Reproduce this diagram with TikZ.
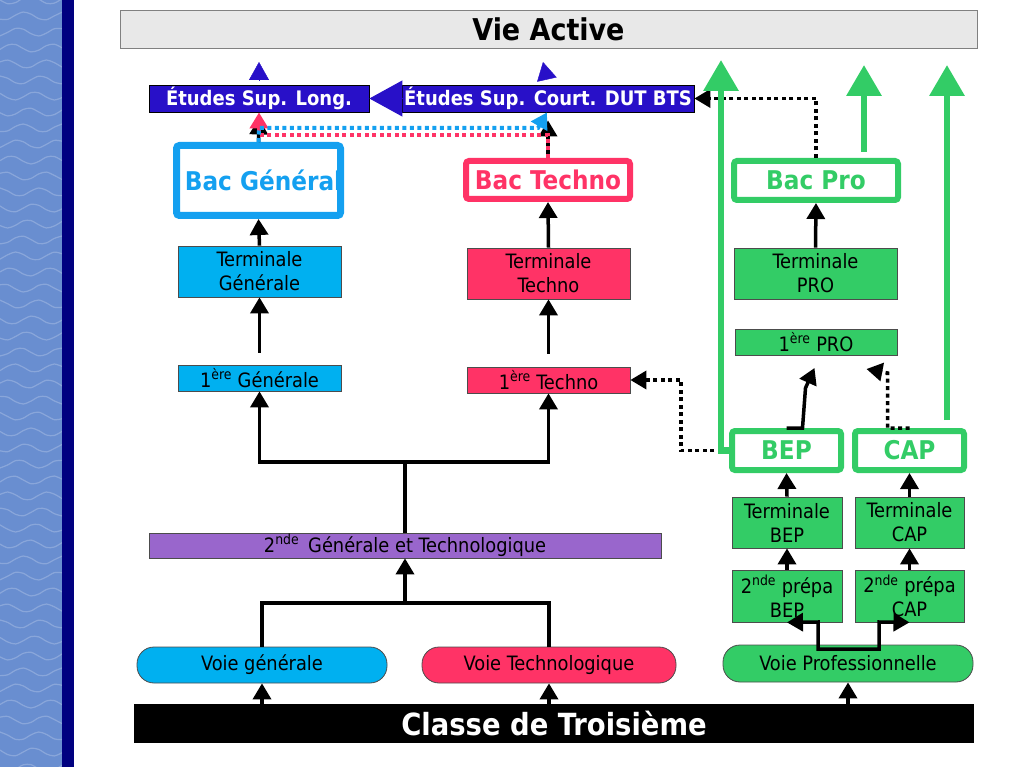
\documentclass[tikz,border=0pt]{standalone}
\usepackage{fontspec}
\setmainfont{DejaVu Sans Condensed}
\usetikzlibrary{arrows.meta}
\definecolor{bleu}{RGB}{0,176,240}
\definecolor{bleubord}{RGB}{20,160,240}
\definecolor{rose}{RGB}{255,51,102}
\definecolor{vert}{RGB}{51,204,102}
\definecolor{violet}{RGB}{153,102,204}
\definecolor{supbleu}{RGB}{40,16,200}
\definecolor{gris}{RGB}{232,232,232}
\definecolor{eau}{RGB}{105,142,208}
\definecolor{marine}{RGB}{0,0,128}

\tikzset{
  etape/.style={draw=black!70, line width=0.8pt, inner sep=0pt, align=center,
    font=\fontsize{19.8}{24}\selectfont},
  voie/.style={etape, rounded corners=17pt},
  bac/.style={line width=6pt, rounded corners=3pt, fill=white, inner sep=0pt,
    font=\fontsize{25.8}{30}\selectfont\bfseries},
  etudes/.style={draw=black, line width=0.8pt, fill=supbleu, text=white, inner sep=0pt,
    minimum height=27pt, font=\fontsize{20}{24}\selectfont\bfseries},
  fleche/.style={line width=3.5pt, -{Triangle[width=18pt,length=16pt]}},
  pointille/.style={line width=4pt, dash pattern=on 4pt off 3.5pt},
  montee/.style={vert, line width=6.5pt, -{Triangle[width=34pt,length=31pt]}},
}

\begin{document}
\begin{tikzpicture}[x=1pt,y=-1pt]
  \useasboundingbox (0,0) rectangle (1023,767);

  % bande de gauche
  \fill[eau] (0,0) rectangle (62,767);
  \foreach \k in {0,...,48}
    \draw[white,opacity=0.22,line width=1.2pt]
      plot[smooth,domain=0:62,samples=9] (\x,{16*\k+4*sin(9*\x+53*\k)});
  \fill[marine] (62,0) rectangle (74,767);

  % titres
  \node[etape, fill=gris, draw=gray, minimum width=857pt, minimum height=38pt,
    font=\fontsize{30}{32}\selectfont\bfseries] (vie) at (548.5,29) {Vie Active};
  \node[etudes, minimum width=220pt] (long) at (259,98.5) {Études Sup. Long.};
  \node[etudes, minimum width=292pt] (court) at (548,98.5) {Études Sup. Court. DUT BTS};

  % bacs
  \node[bac, draw=bleubord, text=bleubord, line width=7pt, minimum width=164pt, minimum height=70pt]
    (bacG) at (258.5,180.5) {\makebox[120pt]{\hspace{10pt}Bac Général}};
  \node[bac, draw=rose, text=rose, minimum width=164pt, minimum height=38pt]
    (bacT) at (548,180) {Bac Techno};
  \node[bac, draw=vert, text=vert, minimum width=164pt, minimum height=39pt]
    (bacP) at (816,180.5) {Bac Pro};
  \node[bac, draw=vert, text=vert, minimum width=109pt, minimum height=39pt]
    (bep) at (786.5,450.5) {BEP};
  \node[bac, draw=vert, text=vert, minimum width=109pt, minimum height=39pt]
    (cap) at (909.5,450.5) {CAP};

  % filiere generale et techno
  \node[etape, fill=bleu, minimum width=163pt, minimum height=51pt] (termG) at (259.5,271.5) {Terminale\\Générale};
  \node[etape, fill=bleu, minimum width=163pt, minimum height=26pt] (premG) at (259.5,378) {1\textsuperscript{ère} Générale};
  \node[etape, fill=rose, minimum width=163pt, minimum height=51pt] (termT) at (548.5,273.5) {Terminale\\Techno};
  \node[etape, fill=rose, minimum width=163pt, minimum height=26pt] (premT) at (548.5,380) {1\textsuperscript{ère} Techno};
  \node[etape, fill=violet, minimum width=512pt, minimum height=25pt] (secGT) at (405,545.5)
    {2\textsuperscript{nde}\, Générale et Technologique};
  \node[voie, fill=bleu, minimum width=250pt, minimum height=36pt] (voieG) at (262,665) {Voie générale};
  \node[voie, fill=rose, minimum width=254pt, minimum height=36pt] (voieT) at (549,665) {Voie Technologique};

  % filiere pro
  \node[etape, fill=vert, minimum width=163pt, minimum height=51pt] (termP) at (815.5,273.5) {Terminale\\PRO};
  \node[etape, fill=vert, minimum width=162pt, minimum height=26pt] (premP) at (816,342) {1\textsuperscript{ère} PRO};
  \node[etape, fill=vert, minimum width=110pt, minimum height=51pt] (termBEP) at (787,522.5) {Terminale\\BEP};
  \node[etape, fill=vert, minimum width=109pt, minimum height=51pt] (termCAP) at (909.5,522.5) {Terminale\\CAP};
  \node[etape, fill=vert, minimum width=110pt, minimum height=52pt] (prepBEP) at (787,596) {2\textsuperscript{nde} prépa\\BEP};
  \node[etape, fill=vert, minimum width=109pt, minimum height=52pt] (prepCAP) at (909.5,596) {2\textsuperscript{nde} prépa\\CAP};
  \node[voie, fill=vert, minimum width=250pt, minimum height=37pt] (voieP) at (848,663.5) {Voie Professionnelle};

  \node[fill=black, text=white, inner sep=0pt, minimum width=840pt, minimum height=39pt,
    font=\fontsize{30.5}{32}\selectfont\bfseries] (classe) at (554,723.5) {Classe de Troisième};

  \coordinate (jG) at (405,462);
  \coordinate (jV) at (405,603);

  % vers le haut
  \draw[supbleu, -{Triangle[width=20pt,length=18pt]}, shorten <=5pt] (long.north) -- (259,62);
  \draw[supbleu, -{Triangle[width=20pt,length=18pt]}, shorten <=5pt] (court.north) -- (543,62);
  \draw[supbleu, line width=1pt, -{Triangle[width=36pt,length=33pt]}] (court.west) -- (long.east);

  % connecteurs noirs
  \draw[fleche] (bacG.north) -- ([yshift=-6pt]long.south);
  \draw[fleche] (bacT.north) -- ([yshift=-8pt]court.south);
  \draw[fleche] (termG.north) -- (bacG.south);
  \draw[fleche] ([yshift=12pt]premG.north) -- (termG.south);
  \draw[fleche] (termT.north) -- (bacT.south);
  \draw[fleche] ([yshift=13pt]premT.north) -- (termT.south);
  \draw[fleche] (termP.north) -- (bacP.south);
  \draw[line width=3.5pt] (secGT.north) -- (jG);
  \draw[line width=3.5pt, {Triangle[width=18pt,length=16pt]}-{Triangle[width=18pt,length=16pt]}]
    (premG.south) |- (jG) -| (premT.south);
  \draw[line width=3.5pt] (voieG.north) |- (jV) -| (voieT.north);
  \draw[fleche] (jV) -- (secGT.south);
  \draw[fleche] (voieG.south |- classe.north) -- (voieG.south);
  \draw[fleche] (voieT.south |- classe.north) -- (voieT.south);
  \draw[fleche] (voieP.south |- classe.north) -- (voieP.south);
  \draw[line width=3.5pt, {Triangle[width=18pt,length=16pt]}-{Triangle[width=18pt,length=16pt]}]
    (prepBEP.south) -- (818,622) -- (818,649) -- (879,649) -- (879,622) -- (prepCAP.south);
  \draw[fleche] (prepBEP.north) -- (termBEP.south);
  \draw[fleche] (prepCAP.north) -- (termCAP.south);
  \draw[fleche] (termBEP.north) -- (bep.south);
  \draw[fleche] (termCAP.north) -- (cap.south);
  \draw[fleche] (bep.north) -- ++(16,0) -- ++(3,-40) -- ++(9,-20);

  % passerelles en pointille
  \draw[pointille, fleche] (cap.north) -- ++(-22,0) -- ++(0,-55) -- ++(-21,-4);
  \draw[pointille, fleche] (bep.west) -- (681,450.5) |- (premT.east);
  \draw[pointille, fleche] (bacP.north) |- (court.east);
  \draw[pointille, rose, -{Triangle[width=18pt,length=16pt]}]
    (bacT.north) -- (548,135) -- (259,135) -- (long.south);
  \draw[pointille, bleubord, -{Triangle[width=18pt,length=16pt]}]
    (bacG.north) -- (259,128) -- (538,128) -- ([xshift=-1pt]court.south);

  % vie active
  \draw[montee] (bep.west) -| (721,60);
  \draw[montee] ([xshift=48pt,yshift=6pt]bacP.north) -- (864,65);
  \draw[montee] ([xshift=37.5pt,yshift=8pt]cap.north) -- (947,65);
\end{tikzpicture}
\end{document}
